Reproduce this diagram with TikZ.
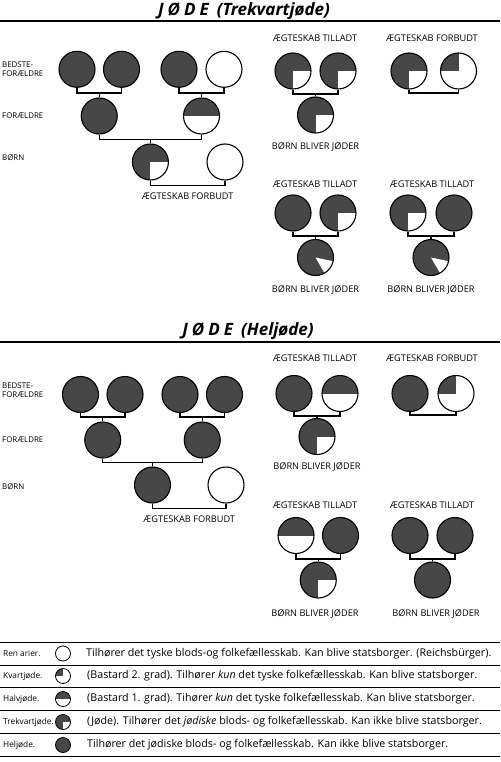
\documentclass[tikz,border=0pt]{standalone}
\usepackage{fontspec}
\setmainfont{Open Sans}
\usetikzlibrary{calc}
\definecolor{jfill}{gray}{0.28}
\tikzset{
  x=1pt, y=-1pt,
  pers/.style={circle, draw=black, line width=1.1pt, minimum size=36pt, inner sep=0pt, fill=white},
  pF/.style={pers, fill=jfill},
  pE/.style={pers},
  pH/.style={pers, path picture={\fill[jfill] (path picture bounding box.west) rectangle (path picture bounding box.north east);}},
  pQ/.style={pers, path picture={\fill[jfill] (path picture bounding box.center) rectangle (path picture bounding box.north west);}},
  pT/.style={pers, fill=jfill, path picture={\fill[white] (path picture bounding box.center) rectangle (path picture bounding box.south east);}},
  pW/.style={pers, fill=jfill, path picture={\fill[white] (path picture bounding box.center) -- ($(path picture bounding box.center)+(12:40)$) -- ($(path picture bounding box.center)+(60:40)$) -- cycle;}},
  icon/.style={minimum size=15pt, line width=0.8pt},
  conn/.style={line width=1.3pt},
  lbl/.style={font=\fontsize{9.2}{10}\selectfont, inner sep=0pt},
  side/.style={font=\fontsize{7.9}{9.6}\selectfont, inner sep=0pt, anchor=west, align=left},
  ttl/.style={font=\fontsize{17}{20}\selectfont\bfseries\itshape, inner sep=0pt},
  rule/.style={line width=1.4pt},
  lrule/.style={line width=1pt},
  lname/.style={font=\fontsize{8.3}{9.5}\selectfont, anchor=west, inner sep=0pt},
  ltext/.style={font=\fontsize{10.7}{12}\selectfont, anchor=west, inner sep=0pt},
}
\begin{document}
\begin{tikzpicture}
\useasboundingbox (0,0) rectangle (500,762);
\fill[white] (0,0) rectangle (500,762);

% ================= TOP SECTION =================
\node[ttl] (t1) at (244,11) {J\hspace{4pt}Ø\hspace{4pt}D\hspace{4pt}E\hspace{8pt}(Trekvartjøde)};
\draw[rule] (0,21) -- (500,21);

\node[side] (sa1) at (2,69) {BEDSTE-\\FORÆLDRE};
\node[side] (sa2) at (2,116) {FORÆLDRE};
\node[side] (sa3) at (2,158) {BØRN};

\node[pF] (ga1) at (77,69.3) {};
\node[pF] (ga2) at (121.5,69.3) {};
\node[pF] (ga3) at (179,69.3) {};
\node[pE] (ga4) at (224,69.3) {};
\coordinate (ma1) at (99.25,93);
\coordinate (ma2) at (201.5,93);
\node[pF] (pa1) at (99.25,116) {};
\node[pH] (pa2) at (201.5,116) {};
\coordinate (ma3) at (150.4,139.5);
\node[pT] (ca1) at (150.4,162) {};
\node[pE] (sa) at (225,162) {};
\coordinate (ma4) at (187.7,185.5);
\node[lbl] (la1) at (ma4 |- 0,196) {ÆGTESKAB FORBUDT};

\draw[conn] (ga1.south) |- (ma1) -| (ga2.south);
\draw[conn] (ga3.south) |- (ma2) -| (ga4.south);
\draw[conn] (ma1) -- (pa1.north);
\draw[conn] (ma2) -- (pa2.north);
\draw[conn] (pa1.south) |- (ma3) -| (pa2.south);
\draw[conn] (ma3) -- (ca1.north);
\draw[conn] (ca1.south) |- (ma4) -| (sa.south);

% top right groups
\node[lbl] (lt1) at (315,38) {ÆGTESKAB TILLADT};
\node[lbl] (lt2) at (432,38) {ÆGTESKAB FORBUDT};
\node[pT] (a1) at (293,71) {};
\node[pT] (a2) at (338,71) {};
\coordinate (mA) at (315.5,94);
\node[pT] (ac) at (315.5,115) {};
\node[lbl] (lac) at (315.5,146.5) {BØRN BLIVER JØDER};
\draw[conn] (a1.south) |- (mA) -| (a2.south);
\draw[conn] (mA) -- (ac.north);

\node[pT] (f1) at (409,71) {};
\node[pQ] (f2) at (458.5,71) {};
\coordinate (mF) at (433.75,93);
\draw[conn] (f1.south) |- (mF) -| (f2.south);

\node[lbl] (lt3) at (315,184) {ÆGTESKAB TILLADT};
\node[lbl] (lt4) at (432,184) {ÆGTESKAB TILLADT};
\node[pF] (b1) at (293,213) {};
\node[pT] (b2) at (338,213) {};
\coordinate (mB) at (315.5,236);
\node[pW] (bc) at (315.5,257.5) {};
\node[lbl] (lbc) at (315.5,290) {BØRN BLIVER JØDER};
\draw[conn] (b1.south) |- (mB) -| (b2.south);
\draw[conn] (mB) -- (bc.north);

\node[pT] (c1) at (408,213) {};
\node[pF] (c2) at (454,213) {};
\coordinate (mC) at (431,236);
\node[pW] (cc) at (431,257.5) {};
\node[lbl] (lcc) at (431,290) {BØRN BLIVER JØDER};
\draw[conn] (c1.south) |- (mC) -| (c2.south);
\draw[conn] (mC) -- (cc.north);

% ================= BOTTOM SECTION =================
\node[ttl] (t2) at (248,331) {J\hspace{4pt}Ø\hspace{4pt}D\hspace{4pt}E\hspace{8pt}(Heljøde)};
\draw[rule] (0,342) -- (500,342);

\node[side] (sb1) at (2,390) {BEDSTE-\\FORÆLDRE};
\node[side] (sb2) at (2,440) {FORÆLDRE};
\node[side] (sb3) at (2,487) {BØRN};

\node[pF] (gb1) at (80.5,394.5) {};
\node[pF] (gb2) at (125,394.5) {};
\node[pF] (gb3) at (180,394.5) {};
\node[pF] (gb4) at (224.5,394.5) {};
\coordinate (mb1) at (102.75,417);
\coordinate (mb2) at (202.25,417);
\node[pF] (pb1) at (102.75,440) {};
\node[pF] (pb2) at (202.25,440) {};
\coordinate (mb3) at (152.5,462.5);
\node[pF] (cb1) at (152.5,485) {};
\node[pE] (sb) at (226,485) {};
\coordinate (mb4) at (189.25,508.5);
\node[lbl] (lb1) at (mb4 |- 0,519) {ÆGTESKAB FORBUDT};

\draw[conn] (gb1.south) |- (mb1) -| (gb2.south);
\draw[conn] (gb3.south) |- (mb2) -| (gb4.south);
\draw[conn] (mb1) -- (pb1.north);
\draw[conn] (mb2) -- (pb2.north);
\draw[conn] (pb1.south) |- (mb3) -| (pb2.south);
\draw[conn] (mb3) -- (cb1.north);
\draw[conn] (cb1.south) |- (mb4) -| (sb.south);

\node[lbl] (lt5) at (315,358) {ÆGTESKAB TILLADT};
\node[lbl] (lt6) at (432,358) {ÆGTESKAB FORBUDT};
\node[pF] (d1) at (294,393.5) {};
\node[pH] (d2) at (340,393.5) {};
\coordinate (mD) at (317,416);
\node[pT] (dc) at (317,436.5) {};
\node[lbl] (ldc) at (317,467) {BØRN BLIVER JØDER};
\draw[conn] (d1.south) |- (mD) -| (d2.south);
\draw[conn] (mD) -- (dc.north);

\node[pF] (h1) at (410,393.5) {};
\node[pQ] (h2) at (456,393.5) {};
\coordinate (mH) at (433,415);
\draw[conn] (h1.south) |- (mH) -| (h2.south);

\node[lbl] (lt7) at (315,505) {ÆGTESKAB TILLADT};
\node[lbl] (lt8) at (432,505) {ÆGTESKAB TILLADT};
\node[pH] (e1) at (296,535.5) {};
\node[pF] (e2) at (340.5,535.5) {};
\coordinate (mE) at (318.25,559);
\node[pT] (ec) at (318.25,580) {};
\node[lbl] (lec) at (315,614) {BØRN BLIVER JØDER};
\draw[conn] (e1.south) |- (mE) -| (e2.south);
\draw[conn] (mE) -- (ec.north);

\node[pF] (k1) at (410,535.5) {};
\node[pF] (k2) at (455,535.5) {};
\coordinate (mK) at (432.5,559);
\node[pF] (kc) at (432.5,580) {};
\node[lbl] (lkc) at (436,614) {BØRN BLIVER JØDER};
\draw[conn] (k1.south) |- (mK) -| (k2.south);
\draw[conn] (mK) -- (kc.north);

% ================= LEGEND =================
\foreach \yy in {642,665,687.5,710.5,733.5,756}{
  \draw[lrule] (0,\yy) -- (500,\yy);
}
\node[lname] (n1) at (3,653.5) {Ren arier.};
\node[pE, icon] (i1) at (63,653.5) {};
\node[ltext] (x1) at (86,653.5) {Tilhører det tyske blods-og folkefællesskab. Kan blive statsborger. (Reichsbürger).};

\node[lname] (n2) at (3,676) {Kvartjøde.};
\node[pQ, icon] (i2) at (63,676) {};
\node[ltext] (x2) at (87,676) {(Bastard 2. grad). Tilhører \textit{kun} det tyske folkefællesskab. Kan blive statsborger.};

\node[lname] (n3) at (3,699) {Halvjøde.};
\node[pH, icon] (i3) at (63,699) {};
\node[ltext] (x3) at (87,699) {(Bastard 1. grad). Tihører \textit{kun} det tyske folkefællesskab. Kan blive statsborger.};

\node[lname] (n4) at (3,722) {Trekvartjøde.};
\node[pT, icon] (i4) at (63,722) {};
\node[ltext] (x4) at (87,722) {(Jøde). Tilhører det \textit{jødiske} blods- og folkefællesskab. Kan ikke blive statsborger.};

\node[lname] (n5) at (3,745) {Heljøde.};
\node[pF, icon] (i5) at (63,745) {};
\node[ltext] (x5) at (87,745) {Tilhører det jødiske blods- og folkefællesskab. Kan ikke blive statsborger.};
\end{tikzpicture}
\end{document}
